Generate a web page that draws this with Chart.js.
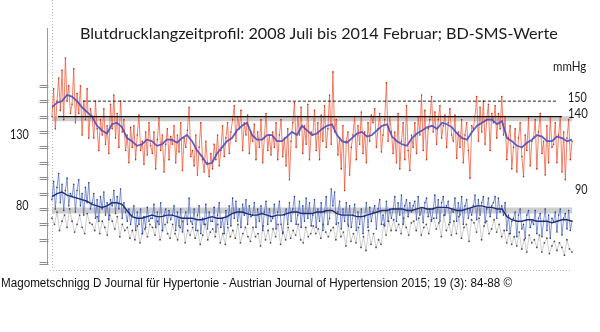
<!DOCTYPE html>
<html>
<head>
<meta charset="utf-8">
<script src="https://cdn.jsdelivr.net/npm/chart.js@4.4.1/dist/chart.umd.min.js"></script>
<style>
  html, body { margin: 0; padding: 0; background: #fff; }
  #wrap { position: relative; width: 600px; height: 332px; overflow: hidden; }
  #c { position: absolute; left: 0; top: 0; }
  .t { position: absolute; white-space: nowrap; line-height: 1; transform-origin: left center; color: #1a1a1a; }
  .cal { font-family: Lato, "Open Sans", sans-serif; }
  #title { left: 80px; top: 33px; font-size: 16px; }
  #foot { left: 1px; top: 283px; font-family: "Liberation Sans Narrow", "Liberation Sans", Arial, sans-serif; font-size: 12.5px; color: #111; }
  .lab { font-size: 12.5px; }
</style>
</head>
<body>
<div id="wrap">
  <canvas id="c" width="600" height="332"></canvas>
  <div class="t cal" id="title" data-w="478">Blutdrucklangzeitprofil: 2008 Juli bis 2014 Februar; BD-SMS-Werte</div>
  <div class="t cal lab" style="left:553px; top:67px;" data-w="33">mmHg</div>
  <div class="t cal lab" style="left:568px; top:98px;" data-w="19">150</div>
  <div class="t cal lab" style="left:568px; top:114px;" data-w="20">140</div>
  <div class="t cal lab" style="left:575px; top:190px;" data-w="13">90</div>
  <div class="t cal lab" style="left:10px; top:135px;" data-w="19">130</div>
  <div class="t cal lab" style="left:16px; top:206px;" data-w="13">80</div>
  <div class="t" id="foot" data-w="511">Magometschnigg D Journal für Hypertonie - Austrian Journal of Hypertension 2015; 19 (3): 84-88 ©</div>
</div>
<script>
// ---- data (mmHg); time axis: days since July 2008 ----
const SPAN_DAYS = 2070;               // Juli 2008 .. Februar 2014
const yTicks = [60, 70, 80, 90, 100, 110, 120, 130, 140, 150, 160];
const refLimits = [150, 140];          // dashed 150, solid 140
const refBands = [138.5, 79];          // grey reference bands

const systolic = [
  140,158,132,150,165,144,170,138,178,150,160,142,
  148,171,136,155,142,160,128,150,138,158,126,145,
  140,126,150,132,118,138,128,145,122,134,116,148,
  132,154,126,142,120,150,130,138,118,128,110,133,
  120,134,112,128,141,118,124,109,130,115,136,121,
  116,130,106,125,139,118,128,104,122,132,112,127,
  122,134,110,128,117,136,105,126,120,131,146,114,
  118,108,128,102,120,136,112,104,124,110,101,116,
  106,122,112,128,108,118,134,114,126,136,116,130,
  138,147,124,140,132,144,118,136,128,141,116,130,
  124,135,112,130,120,138,110,126,142,118,128,115,
  130,120,136,112,128,138,114,126,108,132,99,124,
  136,149,120,140,128,146,116,134,122,148,112,130,
  128,144,118,136,112,141,124,147,120,132,154,122,
  169,130,138,115,126,106,134,92,124,130,102,120,
  128,140,112,134,122,143,116,130,110,136,124,141,
  136,145,120,132,142,117,128,138,162,124,140,130,
  116,130,110,142,106,124,136,112,147,118,105,128,
  120,136,116,140,128,154,118,144,112,132,138,153,
  130,143,122,138,147,126,134,141,120,136,145,128,
  124,141,113,130,120,138,110,128,136,118,100,134,
  132,140,153,124,146,130,150,122,138,148,118,142,
  136,147,126,142,132,153,128,140,112,126,134,106,
  120,132,104,126,136,114,101,128,118,139,108,124,
  126,138,106,130,142,116,124,102,134,110,140,120,
  122,136,110,128,140,104,130,99,126,138,112,124
];

const systolicAvg = [
  146,149,150,154,153,150,146,143,140,134,
  131,129,135,136,133,126,124,121,122,125,
  124,121,122,125,125,123,126,128,124,118,
  114,109,110,116,120,124,126,131,134,136,
  128,125,125,128,128,124,124,127,130,128,
  134,131,128,129,132,134,135,128,124,123,
  126,129,130,127,128,131,134,135,127,124,
  122,121,126,129,131,133,134,132,136,135,
  133,129,126,125,130,134,136,138,138,135,
  137,126,124,121,120,123,125,128,127,124,
  124,127,126,124,125
];

const diastolic = [
  86,98,80,94,103,84,96,79,92,100,82,90,
  88,96,78,92,99,82,90,76,94,84,97,80,
  84,90,74,86,72,88,80,91,76,84,73,86,
  82,92,77,88,80,93,74,84,78,72,80,70,
  76,82,66,78,70,80,64,75,68,81,72,74,
  74,83,68,78,70,84,66,76,80,71,79,73,
  76,82,66,78,69,80,65,74,78,70,87,72,
  70,80,66,76,82,64,74,70,83,67,78,72,
  72,81,65,76,84,68,74,64,79,70,82,69,
  87,74,85,72,80,68,83,76,86,70,82,75,
  76,84,68,80,72,82,66,78,85,70,80,72,
  74,83,67,78,85,70,64,76,80,70,84,72,
  80,88,70,76,85,68,82,72,87,74,84,69,
  76,86,68,80,72,84,66,78,88,70,74,93,
  82,91,70,78,85,67,80,72,84,70,82,68,
  76,83,66,78,70,80,64,75,84,68,81,72,
  78,82,67,80,86,70,76,69,85,72,80,74,
  80,88,72,84,76,89,70,82,86,75,84,78,
  82,85,73,88,76,80,71,84,87,75,80,72,
  80,89,74,86,72,84,88,76,82,85,71,80,
  78,87,72,84,76,88,70,82,86,74,80,76,
  82,89,73,86,76,84,88,71,80,87,75,82,
  84,88,74,87,78,82,76,84,66,76,64,72,
  74,78,62,76,80,67,70,61,76,79,68,72,
  70,79,64,74,77,62,72,80,66,76,61,74,
  72,78,65,76,80,63,74,77,67,79,66,72
];

const diastolicAvg = [
  88,90,91,89,88,87,86,85,83,82,
  81,82,84,84,83,79,75,74,74,75,
  76,75,75,76,76,75,74,74,74,73,
  73,74,75,74,74,75,77,78,78,77,
  76,76,77,76,75,76,76,77,78,78,
  77,77,77,78,78,79,79,77,76,76,
  76,75,75,76,77,78,79,79,80,80,
  80,79,79,80,81,80,80,81,81,81,
  80,79,79,80,81,82,82,81,81,80,
  80,75,73,72,72,73,73,72,72,72,
  71,72,73,73,72
];

const grey = [
  74,70,78,66,72,76,68,80,
  72,65,70,76,68,64,77,71,
  70,66,75,64,72,68,63,76,
  72,67,75,62,70,66,68,61,
  66,60,69,58,64,67,62,70,
  68,63,72,60,66,70,64,61,
  70,64,60,68,72,58,66,63,
  68,61,66,57,63,70,60,65,
  67,62,70,58,64,57,68,62,
  66,61,70,58,64,68,62,59,
  68,62,64,56,69,60,66,58,
  67,62,70,57,65,60,68,61,
  66,63,70,60,58,68,62,64,
  69,64,67,61,70,65,62,66,
  68,60,71,62,65,56,69,59,
  64,58,68,55,62,53,66,57,
  64,55,60,57,70,63,72,66,
  73,66,70,64,74,68,63,71,
  72,66,74,63,68,70,64,73,
  74,67,71,62,76,66,70,63,
  72,64,75,61,68,70,59,73,
  71,65,74,60,69,72,64,67,
  73,65,70,62,66,58,64,57,
  62,56,65,54,60,52,63,58,
  60,55,63,52,58,61,51,56,
  59,53,58,55,50,60,54,52
];

// ---- build {x,y} series: equally spaced over the time span ----
function series(vals) {
  const step = SPAN_DAYS / (vals.length - 1);
  return vals.map((v, i) => ({ x: i * step, y: v }));
}
function hline(v, d0, d1) { return [{ x: d0, y: v }, { x: d1, y: v }]; }

const axisDecor = {
  id: 'axisDecor',
  beforeDatasetsDraw(chart) {
    const { ctx, scales: { x, y } } = chart;
    const x0 = x.getPixelForValue(0);
    const x1 = x.getPixelForValue(SPAN_DAYS);
    ctx.save();
    ctx.strokeStyle = '#b8b8b8';
    ctx.lineWidth = 1;
    ctx.setLineDash([1, 2]);
    ctx.beginPath();
    ctx.moveTo(Math.round(x0) + 0.5, 0);
    ctx.lineTo(Math.round(x0) + 0.5, 270);
    ctx.moveTo(x0 - 2, 270.5);
    ctx.lineTo(x1, 270.5);
    ctx.stroke();
    ctx.setLineDash([]);
    const ax = chart.chartArea.left + 0.5;
    ctx.strokeStyle = '#9a9a9a';
    ctx.beginPath();
    ctx.moveTo(ax, chart.chartArea.top);
    ctx.lineTo(ax, chart.chartArea.bottom);
    ctx.stroke();
    ctx.strokeStyle = '#8c8c8c';
    yTicks.concat([y.min + 1.5]).forEach(v => {
      const py = Math.round(y.getPixelForValue(v));
      ctx.beginPath();
      ctx.moveTo(ax - 8, py - 0.5); ctx.lineTo(ax + 1, py - 0.5);
      ctx.moveTo(ax - 8, py + 1.5); ctx.lineTo(ax + 1, py + 1.5);
      ctx.stroke();
    });
    ctx.restore();
  }
};

new Chart(document.getElementById('c'), {
  type: 'line',
  data: {
    datasets: [
      { data: hline(refBands[0], 0, SPAN_DAYS), borderColor: 'rgba(165,165,165,0.55)', borderWidth: 5, pointRadius: 0, order: 20 },
      { data: hline(refBands[1], 0, SPAN_DAYS), borderColor: 'rgba(165,165,165,0.55)', borderWidth: 6, pointRadius: 0, order: 20 },
      { data: series(grey), borderColor: 'rgba(140,140,140,0.7)', borderWidth: 0.6, pointRadius: 0.9, pointBackgroundColor: '#505050', pointBorderWidth: 0, order: 12 },
      { data: series(diastolic), borderColor: 'rgba(60,90,185,0.8)', borderWidth: 0.8, pointRadius: 0.8, pointBackgroundColor: '#2a3f8f', pointBorderWidth: 0, order: 10 },
      { data: series(systolic), borderColor: 'rgba(240,78,45,0.8)', borderWidth: 0.9, pointRadius: 0.8, pointBackgroundColor: '#b8341e', pointBorderWidth: 0, order: 10 },
      { data: series(systolicAvg), borderColor: 'rgba(78,76,192,0.9)', borderWidth: 1.8, pointRadius: 0, order: 5 },
      { data: series(diastolicAvg), borderColor: '#1f2d78', borderWidth: 1.4, pointRadius: 0, order: 5 },
      { data: hline(refLimits[0], 123, 2010), borderColor: '#222', borderWidth: 1, borderDash: [3, 2], pointRadius: 0, order: 1 },
      { data: hline(refLimits[1], 24, 2030), borderColor: '#111', borderWidth: 1.3, pointRadius: 0, order: 1 }
    ]
  },
  options: {
    responsive: false,
    animation: false,
    devicePixelRatio: 1,
    layout: { padding: { left: 47, right: 23, top: 28, bottom: 67 } },
    scales: {
      x: { type: 'linear', min: -19.9, max: 2089.9, display: false },
      y: { type: 'linear', min: 43.6, max: 197.5, display: false }
    },
    plugins: { legend: { display: false }, tooltip: { enabled: false } },
    elements: { line: { tension: 0 } }
  },
  plugins: [axisDecor]
});

function fitTexts() {
  document.querySelectorAll('.t').forEach(el => {
    const target = parseFloat(el.dataset.w);
    const w = el.offsetWidth;
    const s = target && w ? target / w : 1;
    el.style.transform = 'translateY(-50%) scaleX(' + s.toFixed(3) + ')';
  });
}
fitTexts();
if (document.fonts && document.fonts.ready) document.fonts.ready.then(fitTexts);
</script>
</body>
</html>
